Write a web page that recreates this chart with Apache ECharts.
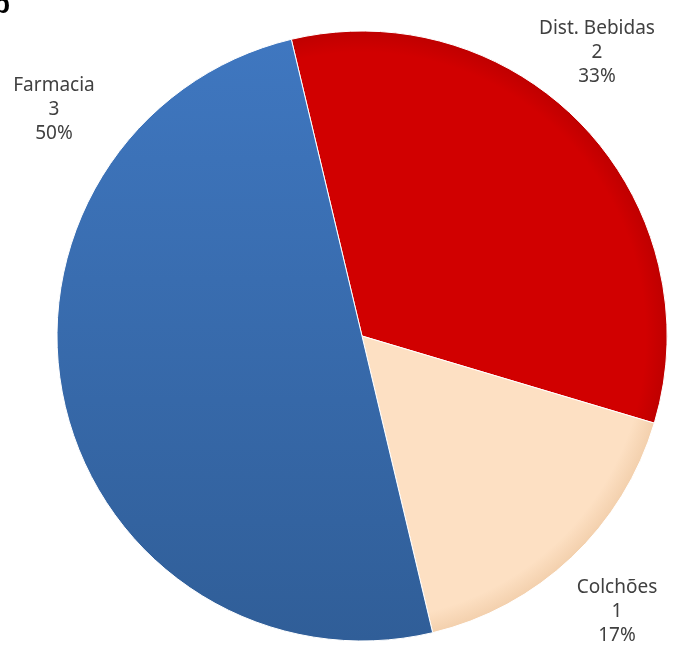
<!DOCTYPE html>
<html>
<head>
<meta charset="utf-8">
<script src="https://cdn.jsdelivr.net/npm/echarts@6/dist/echarts.min.js"></script>
<style>
  html, body { margin: 0; padding: 0; background: #fff; }
  #chart { width: 689px; height: 650px; }
</style>
</head>
<body>
<div id="chart"></div>
<script>
  // data, clockwise from the top
  var categories = ['Dist. Bebidas', 'Colchões', 'Farmacia']
  var values = [2, 1, 3]

  // label spots (centre of each text block) and slice fills
  var labelPos = [[597, 53], [617, 612], [54, 110]]
  var cx = 362, cy = 336, R = 305

  function shade(inner, outer) {
    return {
      type: 'radial', x: cx, y: cy, r: R, global: true,
      colorStops: [
        { offset: 0, color: inner },
        { offset: 0.93, color: inner },
        { offset: 1, color: outer }
      ]
    }
  }
  var fills = [
    shade('#d10000', '#bf0000'),
    shade('#fde0c3', '#f3d0ad'),
    {
      type: 'linear', x: 0, y: 0, x2: 0, y2: 1,
      colorStops: [
        { offset: 0, color: '#3f77c0' },
        { offset: 1, color: '#305e98' }
      ]
    }
  ]

  var chart = echarts.init(document.getElementById('chart'))

  var total = values.reduce(function (a, b) { return a + b }, 0)

  var option = {
    animation: false,
    graphic: [{
      type: 'text', left: -7, top: -9,
      style: { text: 'b', font: 'bold 28px "Liberation Sans"', fill: '#000' }
    }],
    series: [{
      type: 'pie',
      center: [cx, cy],
      radius: R,
      startAngle: 103.4,
      clockwise: true,
      avoidLabelOverlap: false,
      label: {
        show: true,
        position: 'outside',
        formatter: function (p) {
          return p.name + '\n' + p.value + '\n' + Math.round(p.value / total * 100) + '%'
        },
        fontFamily: '"Noto Sans"',
        fontSize: 19,
        lineHeight: 24,
        color: '#404040',
        align: 'center'
      },
      labelLine: { show: false },
      labelLayout: function (params) {
        var p = labelPos[params.dataIndex]
        return { x: p[0], y: p[1], align: 'center', verticalAlign: 'middle' }
      },
      itemStyle: { borderColor: '#fff', borderWidth: 1 },
      emphasis: { disabled: true },
      data: categories.map(function (name, i) {
        return { name: name, value: values[i], itemStyle: { color: fills[i] } }
      })
    }]
  }

  chart.setOption(option)
</script>
</body>
</html>
